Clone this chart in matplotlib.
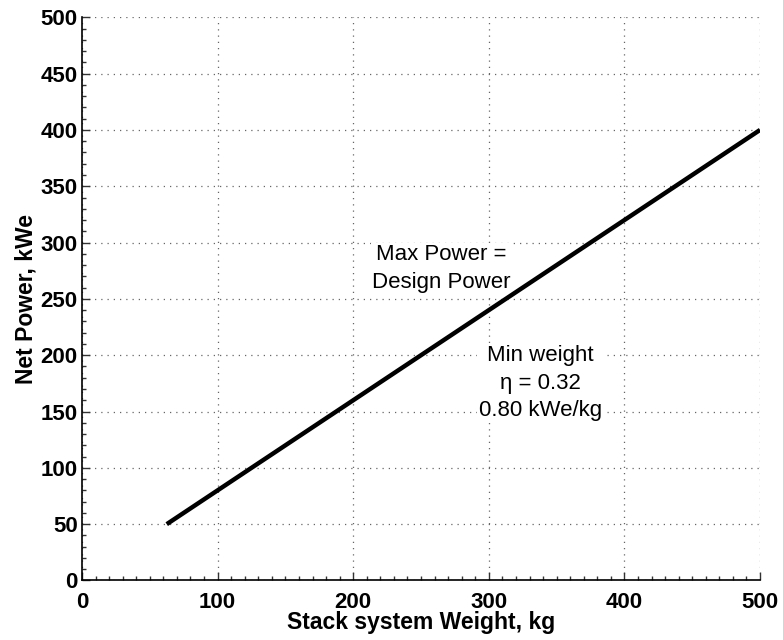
"""Net power vs stack system weight (MATLAB-style line chart)."""

import matplotlib
matplotlib.use("Agg")
import matplotlib.pyplot as plt
from matplotlib.ticker import MultipleLocator

plt.rcParams["font.family"] = ["Liberation Sans", "DejaVu Sans"]

# Data
weight_kg = [62.5, 500]
net_power_kwe = [50, 400]

x_ticks = [0, 100, 200, 300, 400, 500]
y_ticks = [0, 50, 100, 150, 200, 250, 300, 350, 400, 450, 500]

label_max = "Max Power =\nDesign Power"
label_min = "Min weight\n\u03b7 = 0.32\n0.80 kWe/kg"


def main() -> None:
    fig = plt.figure(figsize=(7.83, 6.4), dpi=100)
    ax = fig.add_axes([0.1047, 0.093, 0.866, 0.880])

    ax.plot(weight_kg, net_power_kwe, color="black", linewidth=3.2,
            solid_capstyle="butt", zorder=3)

    ax.set_xlim(0, 500)
    ax.set_ylim(0, 500)
    ax.set_xticks(x_ticks)
    ax.set_yticks(y_ticks)
    ax.xaxis.set_minor_locator(MultipleLocator(10))
    ax.yaxis.set_minor_locator(MultipleLocator(10))

    ax.tick_params(which="both", direction="in", width=1.0, color="#333333")
    ax.tick_params(which="major", length=6, labelsize=16)
    ax.tick_params(which="minor", length=3)
    ax.tick_params(axis="x", which="major", pad=8)
    ax.tick_params(axis="y", which="major", pad=3)
    for lbl in ax.get_xticklabels() + ax.get_yticklabels():
        lbl.set_fontweight("bold")

    ax.spines["top"].set_visible(False)
    ax.spines["right"].set_visible(False)
    ax.spines["left"].set_linewidth(1.2)
    ax.spines["bottom"].set_linewidth(1.2)

    ax.grid(True, which="major", linestyle=(0, (1, 4)), color="#666666",
            linewidth=0.9)

    ax.set_xlabel("Stack system Weight, kg", fontsize=16.5, fontweight="bold",
                  labelpad=-1)
    ax.set_ylabel("Net Power, kWe", fontsize=16.5, fontweight="bold",
                  labelpad=2)

    box = dict(facecolor="white", edgecolor="none", pad=1)
    ax.text(265, 277, label_max, ha="center", va="center", fontsize=16,
            linespacing=1.4, bbox=box, zorder=2)
    ax.text(338, 175, label_min, ha="center", va="center", fontsize=16,
            linespacing=1.4, bbox=box, zorder=2)

    fig.savefig("out.png", dpi=100)
    plt.close(fig)


if __name__ == "__main__":
    main()
